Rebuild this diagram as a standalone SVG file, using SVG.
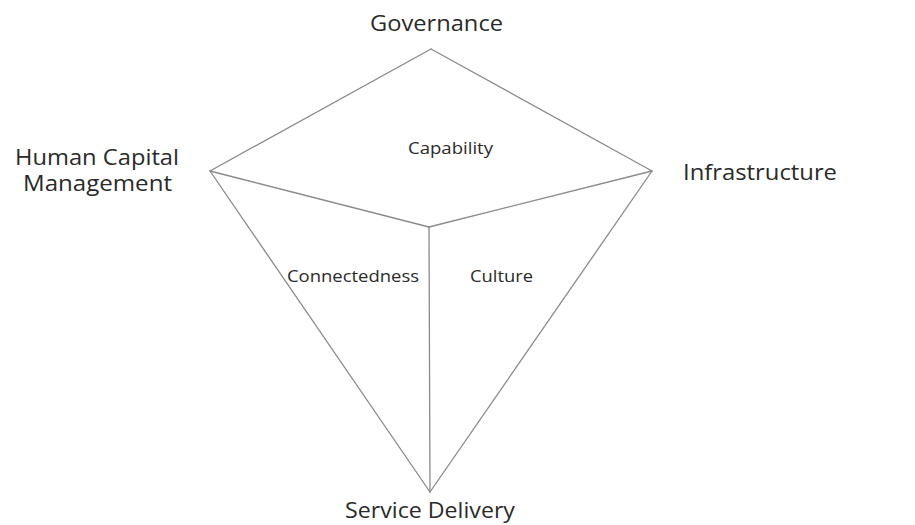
<svg xmlns="http://www.w3.org/2000/svg" width="915" height="525" viewBox="0 0 915 525">
<style>
.edge{stroke:#8a8a8a;stroke-width:1.3;fill:none;stroke-linecap:round}
.lbl{font-family:"Open Sans","Liberation Sans",sans-serif;fill:#2a2a2a;font-size:21px}
.in{font-family:"Open Sans","Liberation Sans",sans-serif;fill:#2a2a2a;font-size:16px}
</style>
<rect width="915" height="525" fill="#ffffff"/>
<g id="connectors">
<line class="edge" x1="431" y1="49" x2="210" y2="171"/>
<line class="edge" x1="431" y1="49" x2="652" y2="171"/>
<line class="edge" x1="210" y1="171" x2="429" y2="227"/>
<line class="edge" x1="652" y1="171" x2="429" y2="227"/>
<line class="edge" x1="429" y1="227" x2="430" y2="492"/>
<line class="edge" x1="210" y1="171" x2="430" y2="492"/>
<line class="edge" x1="652" y1="171" x2="430" y2="492"/>
</g>
<g id="governance"><text class="lbl" x="370" y="31" textLength="133" lengthAdjust="spacingAndGlyphs">Governance</text></g>
<g id="human-capital"><text class="lbl" x="15" y="165" textLength="164" lengthAdjust="spacingAndGlyphs">Human Capital</text><text class="lbl" x="23" y="191" textLength="149" lengthAdjust="spacingAndGlyphs">Management</text></g>
<g id="infrastructure"><text class="lbl" x="683" y="180" textLength="154" lengthAdjust="spacingAndGlyphs">Infrastructure</text></g>
<g id="service-delivery"><text class="lbl" x="345" y="518" textLength="170" lengthAdjust="spacingAndGlyphs">Service Delivery</text></g>
<g id="capability"><text class="in" x="408" y="154" textLength="85" lengthAdjust="spacingAndGlyphs">Capability</text></g>
<g id="connectedness"><text class="in" x="287" y="282" textLength="132" lengthAdjust="spacingAndGlyphs">Connectedness</text></g>
<g id="culture"><text class="in" x="470" y="282" textLength="63" lengthAdjust="spacingAndGlyphs">Culture</text></g>
</svg>
